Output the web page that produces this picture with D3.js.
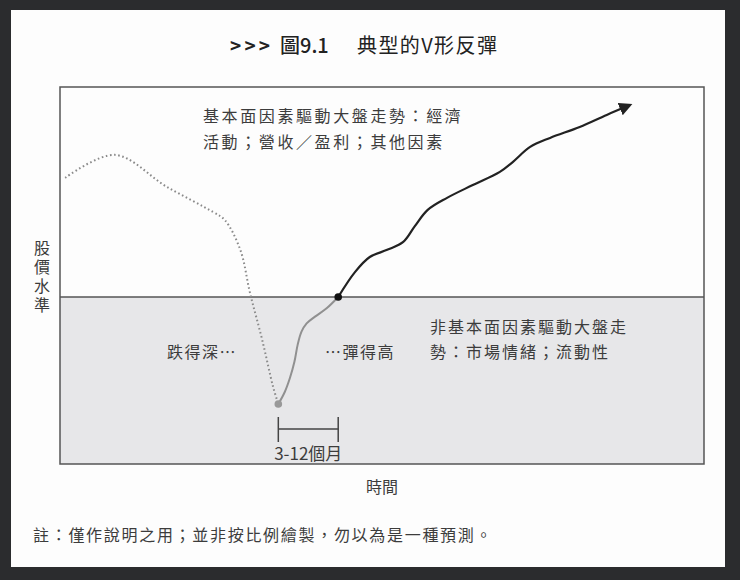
<!DOCTYPE html>
<html>
<head>
<meta charset="utf-8">
<script src="https://cdn.jsdelivr.net/npm/d3@7"></script>
<style>
  html, body { margin: 0; padding: 0; background: #2b2c2e; }
  svg { display: block; }
  text { font-family: "Noto Sans CJK TC", "Noto Sans", sans-serif; fill: #3c3c3c; }
</style>
</head>
<body>
<svg id="chart" width="740" height="580"></svg>
<script>
// time on x (0-100), price level on y (0-100)
var normalLevel = 44.3;

// fall before the trough (dotted)
var fallT = [0.8, 8.5, 16.6, 23.8, 25.6, 28.0, 29.5, 31.4, 33.1, 33.9];
var fallV = [75.9, 82.0, 73.5, 66.8, 64.7, 56.8, 45.4, 32.9, 20.4, 15.9];

// rebound below normal level (grey)
var reboundT = [33.9, 34.9, 35.7, 36.4, 36.9, 37.5, 38.3, 39.6, 41.4, 43.2];
var reboundV = [15.9, 19.1, 22.8, 27.1, 31.6, 35.1, 37.3, 39.1, 41.3, 44.3];

// fundamentals driven rise (black)
var riseT = [43.2, 45.8, 48.1, 50.8, 53.3, 55.1, 57.1, 60.1, 64.1, 68.3, 70.3, 73.0, 76.1, 80.7, 84.9, 88.5];
var riseV = [44.3, 50.9, 54.9, 56.8, 58.9, 63.1, 67.4, 70.6, 74.0, 77.5, 80.1, 84.1, 86.5, 89.4, 92.6, 95.2];

var titleMark = "> > >";
var titleNum = "圖9.1";
var titleText = "典型的V形反彈";
var topNote = ["基本面因素驅動大盤走勢：經濟", "活動；營收／盈利；其他因素"];
var lowNote = ["非基本面因素驅動大盤走", "勢：市場情緒；流動性"];
var yLabel = "股價水準";
var footnote = "註：僅作說明之用；並非按比例繪製，勿以為是一種預測。";

var svg = d3.select("#chart");

// page
svg.append("rect").attr("x", 11).attr("y", 10).attr("width", 714).attr("height", 557)
	.attr("fill", "#fdfdfd");

var box = {left: 60, right: 704, top: 87, bottom: 464};

var x = d3.scaleLinear().domain([0, 100]).range([box.left, box.right]);
var y = d3.scaleLinear().domain([0, 100]).range([box.bottom, box.top]);

// grey zone under the normal level
svg.append("rect")
	.attr("x", x(0)).attr("y", y(normalLevel))
	.attr("width", x(100) - x(0)).attr("height", y(0) - y(normalLevel))
	.attr("fill", "#e7e7e9");

svg.append("line")
	.attr("x1", x(0)).attr("x2", x(100))
	.attr("y1", y(normalLevel)).attr("y2", y(normalLevel))
	.attr("stroke", "#555").attr("stroke-width", 1.5);

svg.append("rect")
	.attr("x", x(0)).attr("y", y(100))
	.attr("width", x(100) - x(0)).attr("height", y(0) - y(100))
	.attr("fill", "none").attr("stroke", "#555").attr("stroke-width", 1.5);

function pts(ts, vs) { return ts.map(function(t, i){ return [t, vs[i]]; }); }

var line = d3.line()
	.x(function(d){ return x(d[0]); })
	.y(function(d){ return y(d[1]); })
	.curve(d3.curveCatmullRom.alpha(0.5));

svg.append("defs").append("marker")
	.attr("id", "arrow").attr("viewBox", "0 0 10 10")
	.attr("refX", 8).attr("refY", 5)
	.attr("markerWidth", 6).attr("markerHeight", 6)
	.attr("orient", "auto")
	.append("path").attr("d", "M0,0L10,5L0,10z").attr("fill", "#222");

svg.append("path").datum(pts(fallT, fallV))
	.attr("d", line).attr("fill", "none")
	.attr("stroke", "#8a8a8a").attr("stroke-width", 2)
	.attr("stroke-dasharray", "1.6,2.6");

svg.append("path").datum(pts(reboundT, reboundV))
	.attr("d", line).attr("fill", "none")
	.attr("stroke", "#909090").attr("stroke-width", 2);

svg.append("path").datum(pts(riseT, riseV))
	.attr("d", line).attr("fill", "none")
	.attr("stroke", "#222").attr("stroke-width", 2.2)
	.attr("marker-end", "url(#arrow)");

// trough and recovery dots
svg.append("circle").attr("cx", x(reboundT[0])).attr("cy", y(reboundV[0]))
	.attr("r", 3.8).attr("fill", "#999");
svg.append("circle").attr("cx", x(riseT[0])).attr("cy", y(riseV[0]))
	.attr("r", 3.8).attr("fill", "#111");

// 3-12 month bracket
var bx0 = x(reboundT[0]), bx1 = x(riseT[0]);
var br = svg.append("g").attr("stroke", "#444").attr("stroke-width", 1.5);
br.append("line").attr("x1", bx0).attr("x2", bx0).attr("y1", 417).attr("y2", 442);
br.append("line").attr("x1", bx1).attr("x2", bx1).attr("y1", 417).attr("y2", 442);
br.append("line").attr("x1", bx0).attr("x2", bx1).attr("y1", 429).attr("y2", 429);
svg.append("text").attr("x", (bx0 + bx1) / 2).attr("y", 460)
	.attr("text-anchor", "middle").attr("font-size", 17).text("3-12個月");

// title
svg.append("text").attr("x", 230).attr("y", 53)
	.attr("font-size", 19).attr("font-weight", 700).style("fill", "#222")
	.attr("textLength", 40).text(titleMark);
svg.append("text").attr("x", 280).attr("y", 53)
	.attr("font-size", 20).attr("font-weight", 500).style("fill", "#222")
	.text(titleNum);
svg.append("text").attr("x", 357).attr("y", 53)
	.attr("font-size", 20).attr("letter-spacing", 1.4).style("fill", "#222")
	.text(titleText);

// notes
svg.selectAll(".top-note").data(topNote).enter().append("text")
	.attr("x", 203).attr("y", function(d, i){ return 122 + i * 26; })
	.attr("font-size", 16).attr("letter-spacing", 2.6).text(function(d){ return d; });

svg.selectAll(".low-note").data(lowNote).enter().append("text")
	.attr("x", 430).attr("y", function(d, i){ return 333 + i * 25; })
	.attr("font-size", 16).attr("letter-spacing", 2).text(function(d){ return d; });

svg.append("text").attr("x", 167).attr("y", 358)
	.attr("font-size", 16).attr("letter-spacing", 1.5).text("跌得深…");
svg.append("text").attr("x", 325).attr("y", 358)
	.attr("font-size", 16).attr("letter-spacing", 1.5).text("…彈得高");

// axis titles
svg.append("text").attr("x", 42).attr("y", 240)
	.style("writing-mode", "vertical-rl")
	.attr("font-size", 16).attr("letter-spacing", 3).text(yLabel);

svg.append("text").attr("x", 382).attr("y", 493).attr("text-anchor", "middle")
	.attr("font-size", 16).text("時間");

svg.append("text").attr("x", 33).attr("y", 541)
	.attr("font-size", 16).attr("letter-spacing", 1.7).text(footnote);
</script>
</body>
</html>
